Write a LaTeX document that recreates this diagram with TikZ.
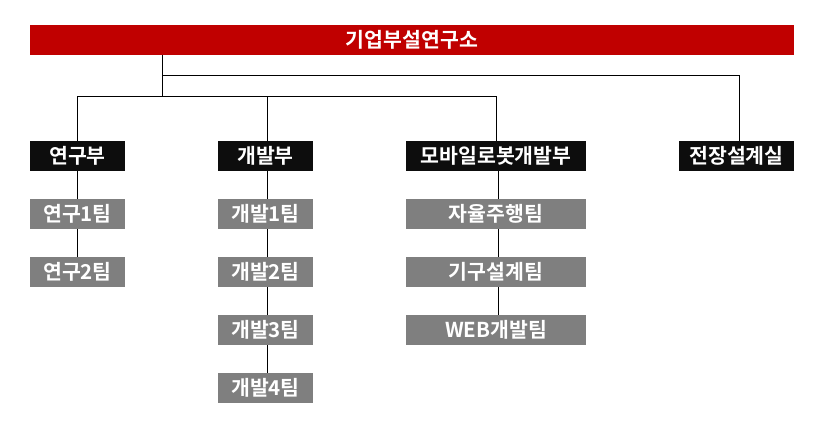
\documentclass[tikz,border=0pt]{standalone}
\usepackage{fontspec}
\setmainfont{Noto Sans CJK KR}[BoldFont={* Bold}]
\newfontfamily\kr{Noto Sans CJK KR Bold}
\definecolor{topred}{HTML}{C00000}
\definecolor{deptblack}{HTML}{0D0D0D}
\definecolor{teamgray}{HTML}{7F7F7F}
\begin{document}
\begin{tikzpicture}[x=1pt,y=-1pt,
  box/.style={rectangle, inner sep=0pt, minimum height=30pt, text=white,
    font=\kr\fontsize{20.5}{20.5}\selectfont},
  topbox/.style={box, fill=topred, minimum width=764pt, minimum height=29.7pt},
  deptbox/.style={box, fill=deptblack},
  teambox/.style={box, fill=teamgray},
  conn/.style={draw=black, line width=1pt}]
\useasboundingbox (0,0) rectangle (818,428);
\node[topbox] (top) at (412,39.85) {기업부설연구소};
% departments
\node[deptbox, minimum width=95pt] (yg) at (77.5,156) {연구부};
\node[deptbox, minimum width=95pt] (kb) at (265.5,156) {개발부};
\node[deptbox, minimum width=180pt] (mb) at (496,156) {모바일로봇개발부};
\node[deptbox, minimum width=115pt] (jj) at (736.5,156) {전장설계실};
% teams
\node[teambox, minimum width=95pt] (y1) at (77.5,214) {연구1팀};
\node[teambox, minimum width=95pt] (y2) at (77.5,272) {연구2팀};
\node[teambox, minimum width=95pt] (k1) at (265.5,214) {개발1팀};
\node[teambox, minimum width=95pt] (k2) at (265.5,272) {개발2팀};
\node[teambox, minimum width=95pt] (k3) at (265.5,330) {개발3팀};
\node[teambox, minimum width=95pt] (k4) at (265.5,388) {개발4팀};
\node[teambox, minimum width=180pt] (m1) at (496,214) {자율주행팀};
\node[teambox, minimum width=180pt] (m2) at (496,272) {기구설계팀};
\node[teambox, minimum width=180pt] (m3) at (496,330) {WEB개발팀};
% connectors
\coordinate (tap) at (162.5,54.7);
\coordinate (busA) at (162.5,96);
\coordinate (busB) at (162.5,75);
\draw[conn] (tap) -- (busA);
\draw[conn] (yg.north) |- ([xshift=0.7pt]mb.north |- busA) -- ([xshift=0.7pt]mb.north);
\draw[conn] ([xshift=1.8pt]kb.north) -- ([xshift=1.8pt]kb.north |- busA);
\draw[conn] (busB) -| ([xshift=3.2pt]jj.north);
\draw[conn] (yg) -- (y1);
\draw[conn] (y1) -- (y2);
\draw[conn] ([xshift=1.5pt]kb.south) -- ([xshift=1.5pt]k1.north);
\draw[conn] ([xshift=1.5pt]k1.south) -- ([xshift=1.5pt]k2.north);
\draw[conn] ([xshift=1.5pt]k2.south) -- ([xshift=1.5pt]k3.north);
\draw[conn] ([xshift=1.5pt]k3.south) -- ([xshift=1.5pt]k4.north);
\draw[conn] ([xshift=2pt]mb.south) -- ([xshift=2pt]m1.north);
\draw[conn] ([xshift=2pt]m1.south) -- ([xshift=2pt]m2.north);
\draw[conn] ([xshift=2pt]m2.south) -- ([xshift=2pt]m3.north);
\end{tikzpicture}
\end{document}
